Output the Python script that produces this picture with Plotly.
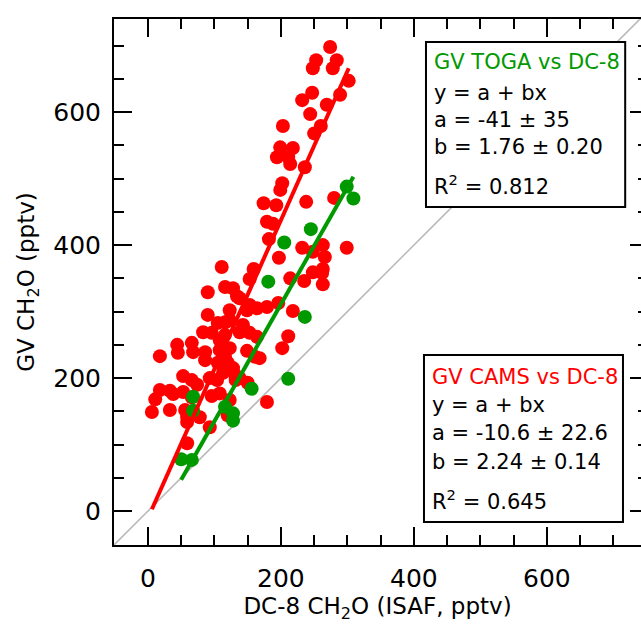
import plotly.graph_objects as go

# DC-8 (ISAF) vs GV CAMS CH2O, pptv
dc8_cams = [274, 253, 284, 248, 278, 302, 247, 232, 289, 269, 244, 203, 260, 250, 199, 218, 194, 211, 214, 236,
            202, 199, 174, 193, 238, 280, 179, 188, 182, 232, 299, 263, 248, 266, 197, 111, 159, 263, 248, 153,
            214, 235, 262, 263, 90, 116, 128, 134, 138, 153, 149, 164, 179, 196, 123, 90, 218, 116, 123, 83,
            96, 116, 108, 138, 153, 164, 211, 202, 44, 66, 45, 68, 86, 86, 18, 108, 123, 116, 149, 161,
            105, 120, 128, 113, 131, 138, 53, 66, 74, 150, 18, 33, 38, 53, 66, 96, 108, 11, 123, 179,
            6, 33, 56, 59, 78, 59, 93, 59, 120, 93, 104, 132, 168, 143, 105]
gv_cams = [698, 678, 678, 666, 666, 647, 629, 618, 626, 611, 597, 579, 579, 568, 547, 546, 532, 532, 522, 517,
           493, 483, 463, 460, 465, 471, 435, 432, 409, 396, 396, 400, 390, 382, 381, 367, 364, 364, 359, 349,
           350, 346, 358, 341, 329, 337, 335, 323, 320, 310, 302, 305, 307, 313, 302, 295, 301, 284, 287, 269,
           268, 265, 257, 269, 268, 262, 263, 245, 250, 253, 238, 239, 239, 227, 233, 242, 245, 232, 241, 232,
           223, 223, 215, 208, 205, 200, 203, 197, 190, 193, 182, 181, 176, 179, 171, 173, 177, 168, 167, 164,
           149, 152, 152, 141, 141, 134, 126, 102, 144, 200, 197, 197, 230, 280, 283]

# DC-8 (ISAF) vs GV TOGA CH2O, pptv
dc8_toga = [299, 309, 245, 205, 181, 236, 211, 156, 68, 68, 116, 128, 128, 50, 66]
gv_toga = [488, 470, 424, 404, 345, 292, 199, 184, 172, 151, 157, 147, 136, 78, 77]

# linear fits y = a + b x
fit_cams = {"a": -10.6, "b": 2.24}
fit_toga = {"a": -41, "b": 1.76}

cams_text = ["GV CAMS vs DC-8", "y = a + bx", "a = -10.6 ± 22.6", "b = 2.24 ± 0.14", "R<sup>2</sup> = 0.645"]
toga_text = ["GV TOGA vs DC-8", "y = a + bx", "a = -41 ± 35", "b = 1.76 ± 0.20", "R<sup>2</sup> = 0.812"]

x_range = [-51, 741.5]
y_range = [-51, 740]

RED = "#FF0000"
GREEN = "#009900"
FONT = "DejaVu Sans"


def fit_line(xs, fit):
    x0, x1 = min(xs), max(xs)
    return [x0, x1], [fit["a"] + fit["b"] * x0, fit["a"] + fit["b"] * x1]


fig = go.Figure()

# 1:1 line
fig.add_trace(go.Scatter(x=x_range, y=x_range, mode="lines",
                         line=dict(color="#BBBBBB", width=1.6), hoverinfo="skip"))

fig.add_trace(go.Scatter(x=dc8_cams, y=gv_cams, mode="markers",
                         marker=dict(color=RED, size=14, line=dict(width=0))))
fig.add_trace(go.Scatter(x=dc8_toga, y=gv_toga, mode="markers",
                         marker=dict(color=GREEN, size=14, line=dict(width=0))))

lx, ly = fit_line(dc8_cams, fit_cams)
fig.add_trace(go.Scatter(x=lx, y=ly, mode="lines", line=dict(color=RED, width=4)))
lx, ly = fit_line(dc8_toga, fit_toga)
fig.add_trace(go.Scatter(x=lx, y=ly, mode="lines", line=dict(color=GREEN, width=4)))

axis_common = dict(
    showgrid=False, zeroline=False, showline=True, linecolor="black", linewidth=2,
    ticks="inside", ticklen=18, tickwidth=2, tickcolor="black",
    tick0=0, dtick=200,
    minor=dict(ticks="inside", ticklen=10, tickwidth=2, tickcolor="black", dtick=50, tick0=0, showgrid=False),
    tickfont=dict(family=FONT, size=25, color="black"),
)

fig.update_layout(
    width=641, height=624,
    margin=dict(l=114, r=0, t=19, b=79),
    paper_bgcolor="white", plot_bgcolor="white",
    showlegend=False,
    font=dict(family=FONT, color="black"),
    xaxis=dict(range=x_range, mirror="ticks", ticklabelstandoff=10,
               title=dict(text="DC-8 CH<sub>2</sub>O (ISAF, pptv)", font=dict(family=FONT, size=23), standoff=4),
               **axis_common),
    yaxis=dict(range=y_range, ticklabelstandoff=6,
               title=dict(text="GV CH<sub>2</sub>O (pptv)", font=dict(family=FONT, size=23), standoff=12),
               **axis_common),
    yaxis2=dict(range=y_range, overlaying="y", side="right", anchor="x",
                showgrid=False, zeroline=False, showline=False, showticklabels=False,
                ticks="inside", ticklen=11, tickwidth=2, tickcolor="black", tick0=0, dtick=200,
                minor=dict(ticks="inside", ticklen=3, tickwidth=2, tickcolor="black", dtick=50, tick0=0)),
)

fig.add_trace(go.Scatter(x=[None], y=[None], yaxis="y2", showlegend=False))

# fit boxes: (lines, title colour, box [x0, x1, y0, y1] in paper units, text x, line centres)
boxes = [
    (toga_text, GREEN, [0.592, 0.970, 0.6426, 0.9563], 0.6035, [0.9183, 0.8593, 0.8080, 0.7567, 0.6844]),
    (cams_text, RED, [0.5882, 0.9658, 0.0437, 0.3612], 0.5997, [0.3194, 0.2662, 0.2129, 0.1578, 0.0856]),
]

for lines, color, (bx0, bx1, by0, by1), tx, ys in boxes:
    fig.add_shape(type="rect", xref="paper", yref="paper", x0=bx0, x1=bx1, y0=by0, y1=by1,
                  line=dict(color="black", width=2), fillcolor="white", layer="above")
    for i, (txt, yy) in enumerate(zip(lines, ys)):
        fig.add_annotation(
            text=txt, xref="paper", yref="paper", x=tx, y=yy,
            xanchor="left", yanchor="middle", align="left", showarrow=False,
            font=dict(family=FONT, size=21, color=color if i == 0 else "black"),
        )

fig.write_html("out.html")
